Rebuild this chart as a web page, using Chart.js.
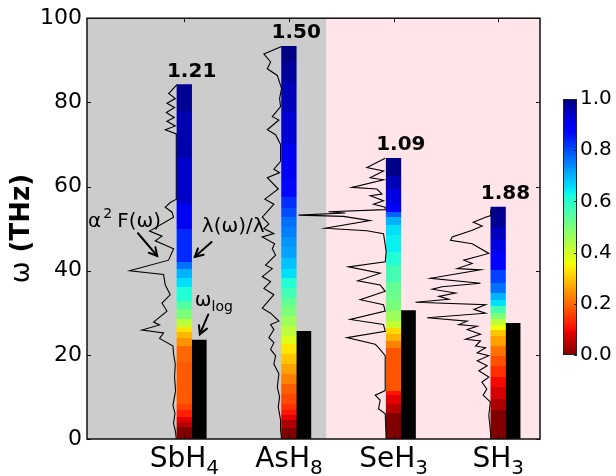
<!DOCTYPE html>
<html>
<head>
<meta charset="utf-8">
<script src="https://cdn.jsdelivr.net/npm/chart.js@4/dist/chart.umd.min.js"></script>
<style>
  html, body { margin: 0; padding: 0; background: #fff; }
  #wrap { position: relative; width: 616px; height: 476px; }
  #main { position: absolute; left: 0; top: 0; }
  #cbar { position: absolute; left: 560px; top: 80px; }
</style>
</head>
<body>
<div id="wrap">
  <canvas id="main" width="616" height="476"></canvas>
  <canvas id="cbar" width="56" height="294"></canvas>
</div>
<script>
// ---- compounds ----
const formulaBase = ['SbH', 'AsH', 'SeH', 'SH'];
const formulaSub = ['4', '8', '3', '3'];
const positions = [1, 2, 3, 4];
const lambdaTotal = [1.21, 1.50, 1.09, 1.88];
const omegaMax = [84.2, 93.3, 66.7, 55.1];   // THz, top of each spectrum
const omegaLog = [23.5, 25.6, 30.5, 27.5];   // THz
const yTicks = [0, 20, 40, 60, 80, 100];
const cbarTicks = [0, 0.2, 0.4, 0.6, 0.8, 1.0];

// ---- cumulative λ(ω)/λ, piecewise: band upper edge (THz) and fraction ----
const sbh4BandTop = [2.9, 4.1, 5.2, 6.8, 8.4, 18.2, 22.0, 24.1, 25.4, 26.6, 28.4, 30.8, 32.7, 36.2, 38.2, 40.5, 42.1, 50.0, 55.8, 66.8, 77.9, 84.2];
const sbh4LamFrac = [0.0, 0.05, 0.085, 0.125, 0.16, 0.185, 0.2, 0.245, 0.285, 0.33, 0.42, 0.5, 0.55, 0.61, 0.655, 0.7, 0.765, 0.835, 0.9, 0.935, 0.96, 0.985];
const ash8BandTop = [2.5, 4.5, 5.6, 6.8, 8.4, 10.8, 13.1, 15.5, 17.8, 20.2, 22.5, 24.5, 26.8, 29.2, 31.5, 33.5, 35.8, 38.2, 40.5, 42.9, 45.6, 48.0, 50.4, 52.7, 55.0, 57.4, 62.1, 70.0, 77.8, 84.9, 89.6, 93.3];
const ash8LamFrac = [0.0, 0.04, 0.085, 0.11, 0.14, 0.165, 0.19, 0.225, 0.26, 0.3, 0.335, 0.38, 0.42, 0.46, 0.5, 0.53, 0.57, 0.61, 0.655, 0.685, 0.715, 0.73, 0.75, 0.765, 0.8, 0.83, 0.87, 0.9, 0.925, 0.95, 0.975, 0.995];
const seh3BandTop = [6.1, 8.4, 10.4, 11.5, 21.7, 23.3, 24.9, 26.4, 28.0, 30.4, 32.7, 35.0, 37.4, 41.4, 44.5, 48.5, 50.8, 52.7, 53.9, 55.5, 59.4, 62.6, 66.7];
const seh3LamFrac = [0.0, 0.05, 0.085, 0.11, 0.18, 0.225, 0.28, 0.32, 0.41, 0.46, 0.5, 0.52, 0.53, 0.57, 0.61, 0.64, 0.655, 0.70, 0.78, 0.89, 0.915, 0.955, 0.99];
const sh3BandTop = [6.8, 9.6, 12.3, 14.7, 17.4, 19.8, 22.1, 24.5, 26.0, 27.2, 28.4, 30.0, 31.5, 33.1, 34.7, 37.0, 40.2, 44.1, 47.2, 50.4, 55.1];
const sh3LamFrac = [0.0, 0.04, 0.075, 0.1, 0.14, 0.175, 0.21, 0.26, 0.3, 0.36, 0.42, 0.5, 0.57, 0.655, 0.70, 0.765, 0.81, 0.88, 0.915, 0.945, 0.985];

// ---- Eliashberg function α²F(ω), arbitrary units ----
const sbh4Omega = [0, 1.7, 3.7, 6.1, 8.0, 11.5, 14.7, 17.8, 20.2, 22.1, 23.9, 25.2, 25.9, 27.1, 27.8, 30.4, 32.3, 34.3, 36.6, 39.1, 40.0, 42.5, 45.2, 47.1, 48.2, 49.4, 52.7, 53.9, 55.1, 56.2, 57.0, 72.5, 73.5, 74.4, 75.5, 76.4, 77.6, 78.8, 79.8, 80.9, 82.1, 84.2];
const sbh4A2F = [0.7, 1.4, 3.4, 2.0, 4.0, 1.4, 2.4, 1.7, 3.4, 4.0, 17.4, 13.4, 35.0, 17.4, 23.4, 10.0, 15.0, 6.7, 11.7, 13.4, 47.4, 8.4, 3.4, 21.7, 15.0, 27.4, 3.4, 5.0, 11.7, 6.7, 0.5, 0.7, 11.7, 1.7, 10.0, 2.7, 10.7, 2.4, 10.0, 1.7, 8.3, 0.0];
const ash8Omega = [0, 2.1, 4.5, 7.6, 10.0, 12.3, 15.5, 17.8, 19.8, 21.3, 22.9, 24.1, 26.0, 27.2, 28.0, 29.9, 31.1, 34.3, 35.8, 37.4, 38.6, 40.5, 41.3, 43.7, 45.2, 46.4, 48.0, 48.8, 50.0, 51.1, 52.7, 55.8, 57.0, 59.4, 62.1, 63.3, 64.1, 66.0, 70.0, 72.3, 73.5, 75.8, 76.6, 79.0, 80.9, 83.3, 86.4, 88.0, 89.6, 91.5, 93.3];
const ash8A2F = [0, 1, 1, 3.3, 2, 4.3, 2.7, 7.7, 6, 11, 7.7, 12.7, 7.7, 11, 2.7, 11, 19.3, 7.7, 17.7, 11, 19.3, 9.3, 16, 6, 9.3, 7, 19.3, 7.7, 17.7, 12.7, 19.3, 7.7, 16.7, 3.3, 14.3, 2, 7.7, 1, 1, 6, 14.3, 2.7, 9.3, 1, 2, 0, 4.3, 14.3, 11, 17.7, 0];
const seh3Omega = [0, 6.0, 7.2, 9.2, 10.4, 11.5, 19.8, 21.7, 22.5, 24.1, 25.6, 27.2, 28.4, 30.4, 31.9, 33.1, 35.1, 36.6, 37.6, 39.4, 40.9, 42.1, 44.5, 48.8, 49.5, 50.1, 51.9, 52.9, 53.2, 53.7, 54.0, 54.5, 55.1, 55.8, 56.6, 57.8, 58.2, 59.4, 59.8, 61.6, 62.1, 63.7, 64.5, 66.7];
const seh3A2F = [0, 1, 7.7, 6, 11, 1, 1, 7.7, 11, 39.3, 1, 2.7, 36, 1, 2.7, 26, 1, 6, 28.5, 6, 37.7, 1, 0, 2.7, 19.3, 61, 16, 42.7, 87.7, 41, 57.7, 1, 1, 12.7, 2.7, 16, 4.3, 9.3, 34.3, 2.7, 16, 2.7, 19.3, 1];
const sh3Omega = [0, 0.9, 5.6, 8.8, 10.4, 11.9, 13.5, 14.7, 16.2, 17.4, 18.6, 19.8, 20.5, 21.7, 22.1, 23.3, 23.7, 24.9, 26.0, 26.8, 27.2, 28.0, 28.8, 29.9, 30.8, 31.9, 32.5, 33.2, 33.9, 34.7, 35.6, 36.2, 37.0, 38.2, 40.2, 40.5, 41.7, 42.5, 44.1, 46.4, 47.2, 48.0, 49.6, 50.6, 51.5, 52.7, 53.1, 54.5];
const sh3A2F = [0, 0, 2, 0.5, 7.7, 4, 9, 2, 12, 3.6, 13.6, 2, 13.6, 5.3, 15.3, 10.3, 25.3, 10.3, 23.6, 13.6, 32, 23.6, 63.6, 5.3, 17, 5.3, 75.3, 42, 52, 35.3, 58.6, 48.6, 10.3, 60.3, 10.3, 33.6, 18.6, 27, 2, 18.6, 40.3, 38.6, 18.6, 8.6, 17.6, 5.3, 0, 0];

// background split between the two groups (x units)
const regionEdges = [0, 2.29, 4.33];
const regionColors = ['#cccccc', '#ffe4e9'];

const bandTops = [sbh4BandTop, ash8BandTop, seh3BandTop, sh3BandTop];
const lamFracs = [sbh4LamFrac, ash8LamFrac, seh3LamFrac, sh3LamFrac];
const a2fSeries = [[sbh4Omega, sbh4A2F], [ash8Omega, ash8A2F], [seh3Omega, seh3A2F], [sh3Omega, sh3A2F]];

const BAR_W = 0.14;          // width of each bar, x units
const A2F_TO_X = 1 / 104.6;  // horizontal extent of one α²F unit, x units
const FONT = "'DejaVu Sans'";
Chart.defaults.font.family = FONT;

// matplotlib "jet" colour map, reversed (0 -> dark red, 1 -> dark blue)
const JET = {
  r: [[0, 0], [0.35, 0], [0.66, 1], [0.89, 1], [1, 0.5]],
  g: [[0, 0], [0.125, 0], [0.375, 1], [0.64, 1], [0.91, 0], [1, 0]],
  b: [[0, 0.5], [0.11, 1], [0.34, 1], [0.65, 0], [1, 0]]
};
function segInterp(pts, t) {
  for (let i = 1; i < pts.length; i++) {
    if (t <= pts[i][0]) {
      const [x0, y0] = pts[i - 1], [x1, y1] = pts[i];
      return y0 + (y1 - y0) * (t - x0) / (x1 - x0);
    }
  }
  return pts[pts.length - 1][1];
}
function jetR(f) {
  const t = 1 - Math.min(1, Math.max(0, f));
  const c = k => Math.round(255 * segInterp(JET[k], t));
  return `rgb(${c('r')},${c('g')},${c('b')})`;
}

// stepped gradient for the λ(ω)/λ bar of compound i
function lambdaGradient(ctx) {
  const chart = ctx.chart;
  if (!chart.chartArea || ctx.dataIndex === undefined) return '#000';
  const i = ctx.dataIndex;
  const y = chart.scales.y;
  const top = omegaMax[i];
  const g = chart.ctx.createLinearGradient(0, y.getPixelForValue(0), 0, y.getPixelForValue(top));
  let prev = 0;
  bandTops[i].forEach((t, k) => {
    const col = jetR(lamFracs[i][k]);
    g.addColorStop(Math.min(1, prev / top), col);
    g.addColorStop(Math.min(1, t / top), col);
    prev = t;
  });
  return g;
}

function arrow(ctx, x0, y0, x1, y1) {
  ctx.beginPath();
  ctx.moveTo(x0, y0);
  ctx.lineTo(x1, y1);
  ctx.stroke();
  const a = Math.atan2(y1 - y0, x1 - x0), L = 9, w = 0.5;
  ctx.beginPath();
  ctx.moveTo(x1 - L * Math.cos(a - w), y1 - L * Math.sin(a - w));
  ctx.lineTo(x1, y1);
  ctx.lineTo(x1 - L * Math.cos(a + w), y1 - L * Math.sin(a + w));
  ctx.stroke();
}

const decor = {
  id: 'decor',
  beforeDatasetsDraw(chart) {
    const { ctx, chartArea: a, scales: { x } } = chart;
    ctx.save();
    for (let r = 0; r < regionColors.length; r++) {
      const x0 = Math.max(a.left, x.getPixelForValue(regionEdges[r]));
      const x1 = Math.min(a.right, x.getPixelForValue(regionEdges[r + 1]));
      ctx.fillStyle = regionColors[r];
      ctx.fillRect(x0, a.top, x1 - x0, a.bottom - a.top);
    }
    ctx.restore();
  },
  afterDatasetsDraw(chart) {
    const { ctx, chartArea: a, scales: { x, y } } = chart;
    ctx.save();
    // frame
    ctx.strokeStyle = '#111';
    ctx.lineWidth = 1.5;
    ctx.strokeRect(a.left, a.top, a.right - a.left, a.bottom - a.top);
    // inward tick marks
    ctx.lineWidth = 1;
    ctx.beginPath();
    yTicks.forEach(v => {
      const py = Math.round(y.getPixelForValue(v)) + 0.5;
      ctx.moveTo(a.left, py); ctx.lineTo(a.left + 4, py);
      ctx.moveTo(a.right, py); ctx.lineTo(a.right - 4, py);
    });
    positions.forEach(p => {
      const px = Math.round(x.getPixelForValue(p - BAR_W / 2)) + 0.5;
      ctx.moveTo(px, a.bottom); ctx.lineTo(px, a.bottom - 4);
      ctx.moveTo(px, a.top); ctx.lineTo(px, a.top + 4);
    });
    ctx.stroke();

    // λ totals above bars
    ctx.fillStyle = '#000';
    ctx.font = `bold 20px ${FONT}`;
    ctx.textAlign = 'center';
    ctx.textBaseline = 'alphabetic';
    positions.forEach((p, i) => {
      ctx.fillText(lambdaTotal[i].toFixed(2), x.getPixelForValue(p), y.getPixelForValue(omegaMax[i]) - 8);
    });

    // compound labels with subscripts
    ctx.textAlign = 'left';
    positions.forEach((p, i) => {
      const cx = x.getPixelForValue(p - BAR_W / 2);
      ctx.font = `28px ${FONT}`;
      const wb = ctx.measureText(formulaBase[i]).width;
      ctx.font = `20px ${FONT}`;
      const ws = ctx.measureText(formulaSub[i]).width;
      const x0 = cx - (wb + ws) / 2;
      const base = a.bottom + 28;
      ctx.font = `28px ${FONT}`;
      ctx.fillText(formulaBase[i], x0, base);
      ctx.font = `20px ${FONT}`;
      ctx.fillText(formulaSub[i], x0 + wb, base + 7);
    });

    // y axis title
    ctx.save();
    ctx.translate(28.5, (a.top + a.bottom) / 2);
    ctx.rotate(-Math.PI / 2);
    ctx.font = `26px ${FONT}`;
    const w1 = ctx.measureText('ω').width;
    ctx.font = `bold 26px ${FONT}`;
    const w2 = ctx.measureText(' (THz)').width;
    let tx = -(w1 + w2) / 2;
    ctx.font = `26px ${FONT}`;
    ctx.fillText('ω', tx, 0);
    ctx.font = `bold 26px ${FONT}`;
    ctx.fillText(' (THz)', tx + w1, 0);
    ctx.restore();

    // annotations
    const P = (xv, wv) => [x.getPixelForValue(xv), y.getPixelForValue(wv)];
    ctx.font = `20px ${FONT}`;
    let [ax, ay] = P(0.01, 50.4);
    ctx.fillText('α', ax, ay);
    const wa = ctx.measureText('α').width;
    ctx.font = `14px ${FONT}`;
    ctx.fillText('2', ax + wa + 2, ay - 9);
    ctx.font = `20px ${FONT}`;
    ctx.fillText('F(ω)', ax + wa + 16, ay);

    [ax, ay] = P(1.098, 49.3);
    ctx.fillText('λ(ω)/λ', ax, ay);

    [ax, ay] = P(1.031, 31.5);
    ctx.fillText('ω', ax, ay);
    const wo = ctx.measureText('ω').width;
    ctx.font = `14px ${FONT}`;
    ctx.fillText('log', ax + wo, ay + 5);

    ctx.strokeStyle = '#000';
    ctx.lineWidth = 2;
    ctx.lineCap = 'round';
    ctx.lineJoin = 'miter';
    arrow(ctx, ...P(0.487, 48.9), ...P(0.671, 43.5));
    arrow(ctx, ...P(1.191, 46.8), ...P(1.031, 43.3));
    arrow(ctx, ...P(1.159, 29.6), ...P(1.079, 24.9));
    ctx.restore();
  }
};

const lineSets = a2fSeries.map(([om, a2f], i) => ({
  type: 'line',
  data: om.map((w, k) => ({ x: positions[i] - BAR_W - a2f[k] * A2F_TO_X, y: w })),
  borderColor: '#000',
  borderWidth: 1.1,
  pointRadius: 0,
  fill: false,
  tension: 0,
  order: 0
}));

new Chart(document.getElementById('main'), {
  type: 'bar',
  data: {
    datasets: [
      {
        type: 'bar',
        data: positions.map((p, i) => ({ x: p - BAR_W / 2, y: [0, omegaMax[i]] })),
        backgroundColor: lambdaGradient,
        borderWidth: 0,
        grouped: false,
        barPercentage: 1,
        categoryPercentage: 1,
        order: 1
      },
      {
        type: 'bar',
        data: positions.map((p, i) => ({ x: p + BAR_W / 2, y: omegaLog[i] })),
        backgroundColor: '#000',
        borderWidth: 0,
        grouped: false,
        barPercentage: 1,
        categoryPercentage: 1,
        order: 1
      },
      ...lineSets
    ]
  },
  options: {
    responsive: false,
    animation: false,
    events: [],
    layout: { padding: { top: 14, right: 76, left: 0, bottom: 0 } },
    plugins: { legend: { display: false }, tooltip: { enabled: false } },
    scales: {
      x: {
        type: 'linear',
        offset: false,
        min: regionEdges[0],
        max: regionEdges[regionEdges.length - 1],
        grid: { display: false, drawTicks: false, offset: false },
        border: { display: false },
        ticks: { display: false },
        afterFit: s => { s.height = 37; }
      },
      y: {
        min: 0,
        max: 100,
        grid: { display: false, drawTicks: false, tickLength: 0 },
        border: { display: false },
        ticks: { stepSize: 20, color: '#000', font: { size: 22, family: FONT }, padding: 5 },
        afterFit: s => { s.width = 87; }
      }
    }
  },
  plugins: [decor]
});

// ---- colour bar for λ(ω)/λ ----
const cbarDecor = {
  id: 'cbarDecor',
  afterDatasetsDraw(chart) {
    const { ctx, chartArea: a, scales: { y } } = chart;
    ctx.save();
    ctx.strokeStyle = '#222';
    ctx.lineWidth = 1;
    ctx.strokeRect(a.left + 0.5, a.top + 0.5, a.right - a.left - 1, a.bottom - a.top - 1);
    ctx.beginPath();
    cbarTicks.forEach(v => {
      const py = Math.round(y.getPixelForValue(v)) + 0.5;
      ctx.moveTo(a.right, py); ctx.lineTo(a.right - 3, py);
    });
    ctx.stroke();
    ctx.restore();
  }
};

new Chart(document.getElementById('cbar'), {
  type: 'bar',
  data: {
    labels: [''],
    datasets: [{
      data: [[0, 1]],
      backgroundColor: ctx => {
        const chart = ctx.chart;
        if (!chart.chartArea) return '#000';
        const y = chart.scales.y;
        const g = chart.ctx.createLinearGradient(0, y.getPixelForValue(0), 0, y.getPixelForValue(1));
        const stops = [0, 0.09, 0.11, 0.34, 0.35, 0.36, 0.625, 0.65, 0.66, 0.875, 0.89, 1];
        stops.forEach(s => g.addColorStop(s, jetR(s)));
        return g;
      },
      borderWidth: 0,
      barPercentage: 1,
      categoryPercentage: 1
    }]
  },
  options: {
    responsive: false,
    animation: false,
    events: [],
    layout: { padding: { left: 3, top: 19, bottom: 19, right: 0 } },
    plugins: { legend: { display: false }, tooltip: { enabled: false } },
    scales: {
      x: { display: false },
      y: {
        position: 'right',
        min: 0,
        max: 1,
        grid: { display: false, drawTicks: false },
        border: { display: false },
        ticks: { stepSize: 0.2, callback: v => v.toFixed(1), color: '#000', font: { size: 20, family: FONT }, padding: 3 },
        afterFit: s => { s.width = 39; }
      }
    }
  },
  plugins: [cbarDecor]
});
</script>
</body>
</html>
